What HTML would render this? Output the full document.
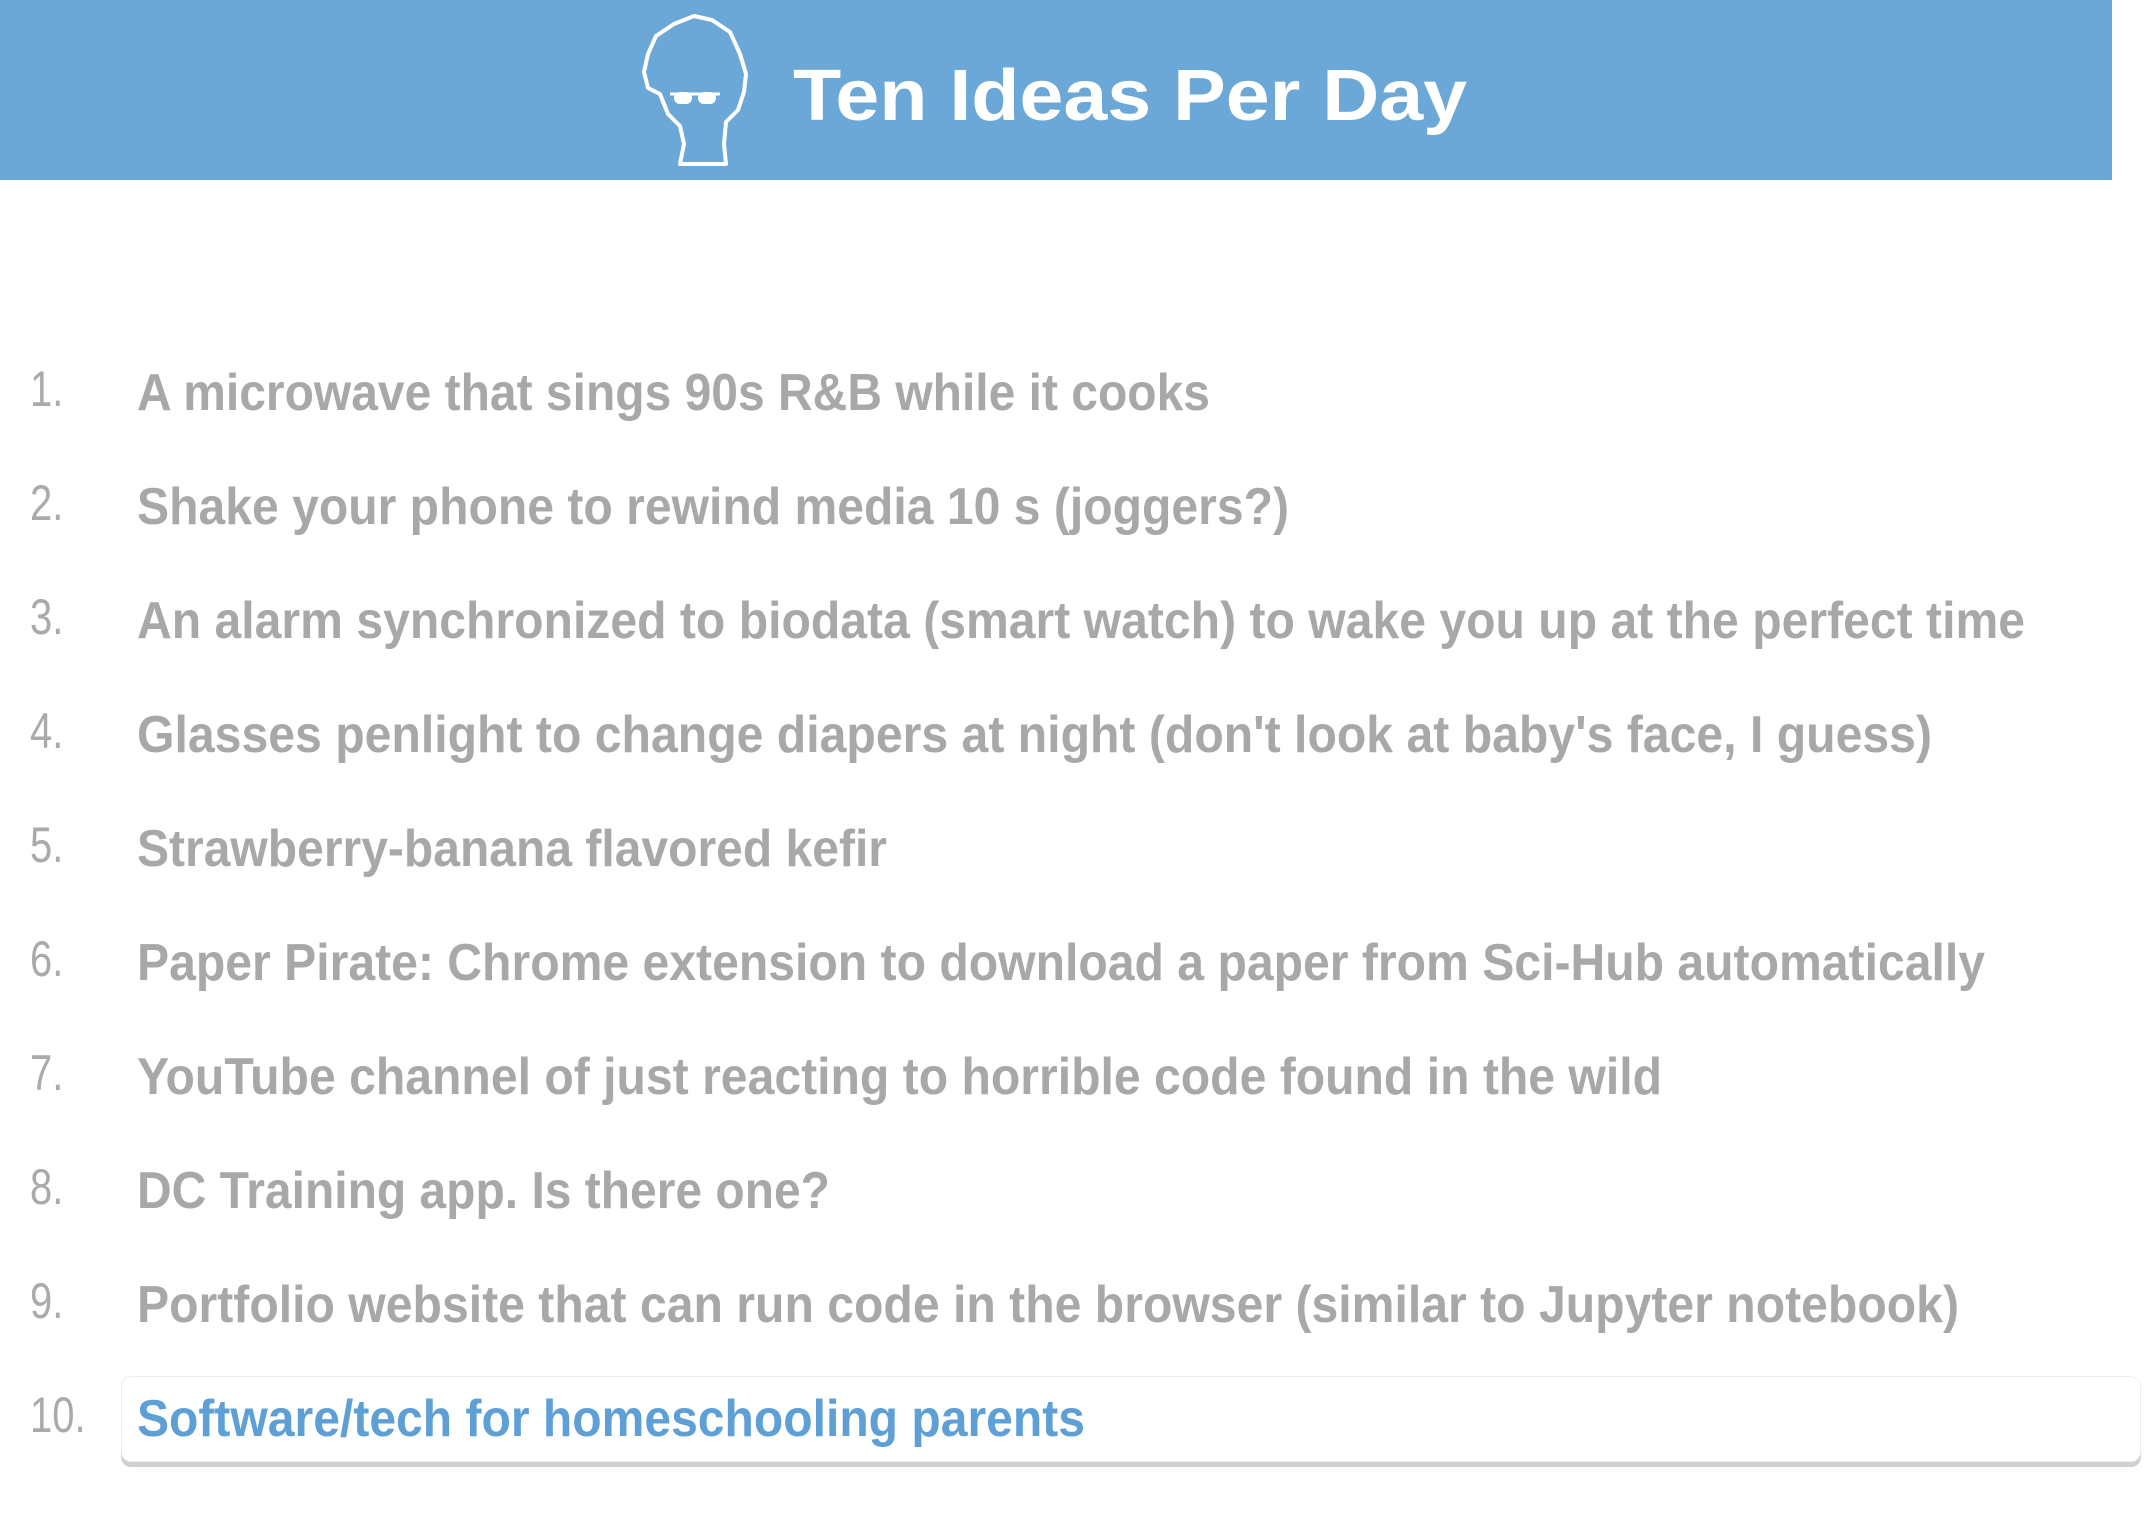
<!DOCTYPE html>
<html><head><meta charset="utf-8"><style>
html,body{margin:0;padding:0;background:#fff;}
body{width:2144px;height:1539px;position:relative;overflow:hidden;font-family:"Liberation Sans",sans-serif;}
#header{position:absolute;left:0;top:0;width:2112px;height:180px;background:#6ca8d7;}
#title{position:absolute;left:793px;top:55px;font-size:72px;font-weight:bold;color:#fff;white-space:nowrap;transform-origin:0 0;line-height:82px;}
.num{position:absolute;left:30px;font-size:50px;color:#aaa;white-space:nowrap;line-height:60px;transform-origin:0 0;font-weight:normal;}
.txt{position:absolute;left:137px;font-size:52px;font-weight:bold;color:#a8a8a8;white-space:nowrap;line-height:60px;transform-origin:0 0;}
#box{position:absolute;left:121px;top:1376px;width:2018px;height:84px;border:1px solid #eee;border-radius:10px;background:#fff;box-shadow:0 5px 0 #d0d0d0;}
</style></head><body>
<div id="header">
<svg style="position:absolute;left:640px;top:14px" width="126" height="156" viewBox="0 0 126 156">
<path d="M40 150 L44 130 L40 112 L28 100 L20 80 L8 74 L4 58 L8 40 L16 22 L34 10 L54 2 L72 6 L90 18 L100 40 L106 60 L104 78 L98 96 L86 108 L84 130 L86 150 Z" fill="none" stroke="#fff" stroke-width="4" stroke-linejoin="round"/>
<rect x="34" y="78" width="18" height="12" rx="6" fill="#fff"/><rect x="58" y="78" width="18" height="12" rx="6" fill="#fff"/>
<line x1="30" y1="80" x2="80" y2="80" stroke="#fff" stroke-width="3"/>
</svg>
<div id="title" data-w="674">Ten Ideas Per Day</div>
</div>
<div id="box"></div>
<div id="list"></div>
<script>
const ideas=["A microwave that sings 90s R&B while it cooks","Shake your phone to rewind media 10 s (joggers?)","An alarm synchronized to biodata (smart watch) to wake you up at the perfect time","Glasses penlight to change diapers at night (don't look at baby's face, I guess)","Strawberry-banana flavored kefir","Paper Pirate: Chrome extension to download a paper from Sci-Hub automatically","YouTube channel of just reacting to horrible code found in the wild","DC Training app. Is there one?","Portfolio website that can run code in the browser (similar to Jupyter notebook)","Software/tech for homeschooling parents"];
const widths=[1073,1152,1888,1795,750,1848,1525,693,1822,948];
const list=document.getElementById('list');
ideas.forEach((t,i)=>{
 const y=363+i*114;
 const n=document.createElement('div');n.className='num';n.textContent=(i+1)+'.';n.style.top=(y-4)+'px';
 
 
 n.style.transform='scaleX(0.8)';
 list.appendChild(n);
 const d=document.createElement('div');d.className='txt';d.textContent=t;d.style.top=y+'px';
 
 
 if(i===9)d.style.color='#5e9fd6';
 d.dataset.w=widths[i];
 list.appendChild(d);
});
document.querySelectorAll('[data-w]').forEach(el=>{const w=el.getBoundingClientRect().width;el.style.transform='scaleX('+(el.dataset.w/w)+')';});
</script>
</body></html>
